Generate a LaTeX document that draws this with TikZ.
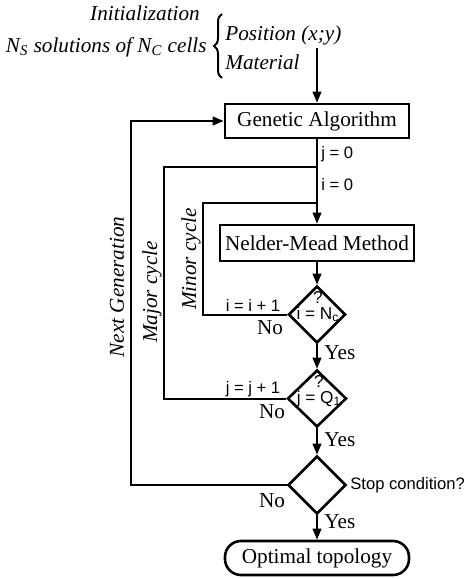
\documentclass[tikz,border=0pt]{standalone}
\usepackage{fontspec}
\setmainfont{Liberation Serif}
\setsansfont{Liberation Sans}
\usetikzlibrary{arrows.meta,shapes.geometric,decorations.pathreplacing}

\begin{document}
\begin{tikzpicture}[
              x=0.5pt,
              y=-0.5pt,
              font=\fontsize{10.6pt}{12.5pt}\selectfont,
              >={Triangle[length=5.5pt,width=4.3pt]},
              process/.style={draw, line width=1.3pt, minimum width=92pt, minimum height=17pt, inner sep=0pt},
              term/.style={process, rounded corners=8pt},
              decision/.style={draw, diamond, line width=1.3pt, inner sep=0pt, minimum width=28.5pt, minimum height=28.5pt},
              cond/.style={font=\sffamily\fontsize{8.3pt}{9.5pt}\selectfont, inner sep=0pt},
              query/.style={font=\sffamily\fontsize{8.6pt}{10pt}\selectfont, inner sep=0pt, align=center},
              note/.style={font=\itshape\fontsize{10.6pt}{12.5pt}\selectfont, inner sep=0pt},
              cyclelabel/.style={note, rotate=90},
              arrow/.style={->, line width=1pt},
              wire/.style={line width=1pt}
            ]
            \useasboundingbox (0,0) rectangle (464,579);

            \node[note] (init) at (145,13) {Initialization};
            \node[note, anchor=east] (cells) at (207,47) {N\textsubscript{S} solutions of N\textsubscript{C} cells};
            \node[note, anchor=west] (pos) at (225,35) {Position (x;y)};
            \node[note, anchor=west] (mat) at (225,62) {Material};
            \draw[decorate, decoration={brace, amplitude=4pt}, line width=1pt] (222,78) -- (222,14);

            \node[process] (ga) at (317,121) {Genetic Algorithm};
            \node[process, minimum width=97pt, minimum height=18pt] (nm) at (317,243) {Nelder-Mead Method};
            \node[decision] (d1) at (317,314.5) {};
            \node[decision, minimum width=29.5pt] (d2) at (317,398.5) {};
            \node[decision, minimum width=29pt, minimum height=29pt] (d3) at (317,485) {};
            \node[term] (opt) at (317,558) {Optimal topology};

            \node[query] (d1txt) at (318,307) {?\\[-2pt]i = N\textsubscript{c}};
            \node[query] (d2txt) at (319,391) {?\\[-2pt]j = Q\textsubscript{1}};

            \coordinate (feed) at (317,48);
            \coordinate (jsplit) at (317,167);
            \coordinate (isplit) at (317,203);

            \draw[arrow] (feed) -- (ga.north);
            \draw[arrow] (ga.south) -- (nm.north);
            \draw[arrow] (nm.south) -- (d1.north);
            \draw[arrow] (d1.south) -- (d2.north);
            \draw[arrow] (d2.south) -- (d3.north);
            \draw[arrow] (d3.south) -- (opt.north);

            \draw[wire] (d1.west) -- ++(-84,0) |- (isplit);
            \draw[wire] (d2.west) -- ++(-122,0) |- (jsplit);
            \draw[arrow] (d3.west) -- ++(-156,0) |- (ga.west);

            \node[cond, anchor=west] (j0) at (321,154) {j = 0};
            \node[cond, anchor=west] (i0) at (321,185) {i = 0};
            \node[cond] (iinc) at (253,305) {i = i + 1};
            \node[cond] (jinc) at (253,389) {j = j + 1};
            \node[cond, anchor=west] (stop) at (350,485) {Stop condition?};

            \node (no1) at (270,328) {No};
            \node (no2) at (272,412) {No};
            \node (no3) at (272,501) {No};
            \node[anchor=west, inner sep=0pt] (yes1) at (324,353) {Yes};
            \node[anchor=west, inner sep=0pt] (yes2) at (324,440) {Yes};
            \node[anchor=west, inner sep=0pt] (yes3) at (324,522) {Yes};

            \node[cyclelabel] (nextgen) at (117,287) {Next Generation};
            \node[cyclelabel] (major) at (152,292) {Major cycle};
            \node[cyclelabel] (minor) at (191,259) {Minor cycle};
            \end{tikzpicture}
\end{document}
